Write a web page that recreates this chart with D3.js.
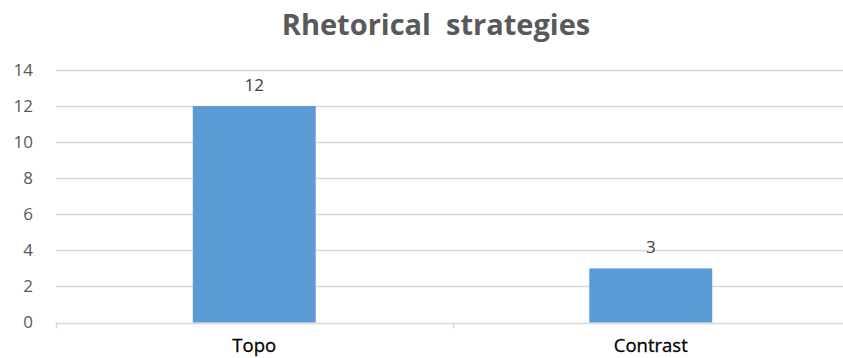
<!DOCTYPE html>
<html>
<head>
<meta charset="utf-8">
<script src="https://cdn.jsdelivr.net/npm/d3@7"></script>
<style>
	html, body { margin: 0; padding: 0; background: #fff; }
	svg { display: block; }
</style>
</head>
<body>
<script>
const categories = ['Topo', 'Contrast'];
const values = [12, 3];
const yTicks = [0, 2, 4, 6, 8, 10, 12, 14];
const title = 'Rhetorical\u00a0 strategies';

const width = 843, height = 358;
const margin = { left: 56, right: -6, top: 70, bottom: 35 };
const font = 'Open Sans, sans-serif';

const svg = d3.select('body')
	.append('svg')
	.attr('width', width)
	.attr('height', height);

const x = d3.scaleBand()
	.domain(categories)
	.range([margin.left, width - margin.right])
	.paddingInner(0.69)
	.paddingOuter(0.345);

const y = d3.scaleLinear()
	.domain([0, 14])
	.range([height - margin.bottom - 0.5, margin.top]);

// Title
svg.append('text')
	.attr('x', 436)
	.attr('y', 35)
	.attr('text-anchor', 'middle')
	.attr('font-family', font)
	.attr('font-weight', 700)
	.attr('font-size', 29)
	.attr('fill', '#595959')
	.text(title);

// Gridlines
svg.append('g')
	.selectAll('line')
	.data(yTicks)
	.join('line')
		.attr('x1', margin.left)
		.attr('x2', width - margin.right)
		.attr('y1', d => Math.round(y(d)) + 0.5)
		.attr('y2', d => Math.round(y(d)) + 0.5)
		.attr('stroke', '#d9d9d9')
		.attr('stroke-width', 1.5);

// Y axis labels
const yAxis = d3.axisLeft(y).tickValues(yTicks).tickSize(0).tickPadding(23);
svg.append('g')
	.attr('transform', `translate(${margin.left},0)`)
	.call(yAxis)
	.call(g => g.select('.domain').remove())
	.call(g => g.selectAll('text')
		.attr('font-family', font)
		.attr('font-size', 17)
		.attr('fill', '#595959'));

// X axis ticks
const xEdges = [margin.left, (x('Topo') + x.bandwidth() + x('Contrast')) / 2];
svg.append('g')
	.selectAll('line')
	.data(xEdges)
	.join('line')
		.attr('x1', d => Math.round(d) + 0.5)
		.attr('x2', d => Math.round(d) + 0.5)
		.attr('y1', y(0))
		.attr('y2', y(0) + 6)
		.attr('stroke', '#d9d9d9')
		.attr('stroke-width', 1.5);

// Bars
svg.append('g')
	.selectAll('rect')
	.data(values)
	.join('rect')
		.attr('x', (d, i) => x(categories[i]))
		.attr('y', d => y(d))
		.attr('width', x.bandwidth())
		.attr('height', d => y(0) - y(d))
		.attr('fill', '#5b9bd5');

// Value labels
svg.append('g')
	.selectAll('text')
	.data(values)
	.join('text')
		.attr('x', (d, i) => x(categories[i]) + x.bandwidth() / 2)
		.attr('y', d => y(d) - 15)
		.attr('text-anchor', 'middle')
		.attr('font-family', font)
		.attr('font-size', 17)
		.attr('fill', '#404040')
		.text(d => d);

// Category labels
svg.append('g')
	.selectAll('text')
	.data(categories)
	.join('text')
		.attr('x', d => x(d) + x.bandwidth() / 2)
		.attr('y', 352)
		.attr('text-anchor', 'middle')
		.attr('font-family', font)
		.attr('font-size', 18.5)
		.attr('fill', '#000')
		.attr('stroke', '#000')
		.attr('stroke-width', 0.3)
		.text(d => d);
</script>
</body>
</html>
